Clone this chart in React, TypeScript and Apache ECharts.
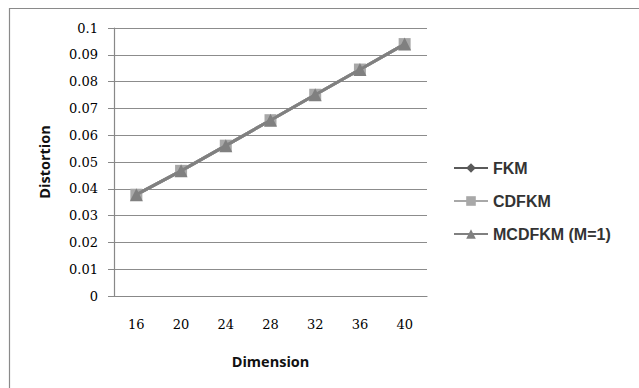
import React, { useEffect, useRef } from "react";
import * as echarts from "echarts";

const dimensions = ["16", "20", "24", "28", "32", "36", "40"];
const fkm = [0.0378, 0.0467, 0.0561, 0.0656, 0.0751, 0.0845, 0.094];
const cdfkm = [0.0378, 0.0467, 0.0561, 0.0656, 0.0751, 0.0845, 0.094];
const mcdfkm = [0.0378, 0.0467, 0.0561, 0.0656, 0.0751, 0.0845, 0.094];

const seriesNames = ["FKM", "CDFKM", "MCDFKM (M=1)"];
const seriesColors = ["#5a5a5a", "#a8a8a8", "#808080"];
const seriesSymbols = ["diamond", "rect", "triangle"];
const seriesSymbolSizes = [9, 12, 13];

export default function App() {
  const ref = useRef<HTMLDivElement>(null);

  useEffect(() => {
    if (!ref.current) return;
    const chart = echarts.init(ref.current, undefined, { renderer: "svg" });
    const values = [fkm, cdfkm, mcdfkm];
    chart.setOption({
      animation: false,
      backgroundColor: "#ffffff",
      graphic: [
        {
          type: "polyline",
          silent: true,
          shape: { points: [[9.5, 400], [9.5, 8.5], [640, 8.5]] },
          style: { stroke: "#8a8a8a", lineWidth: 1.2, fill: null },
        },
      ],
      legend: {
        orient: "vertical",
        left: 448,
        top: 155,
        itemWidth: 34,
        itemHeight: 12,
        itemGap: 17,
        data: seriesNames,
        textStyle: {
          fontFamily: "Liberation Sans",
          fontWeight: "bold",
          fontSize: 16,
          color: "#333333",
        },
      },
      grid: { left: 114, right: 212, top: 28, bottom: 92 },
      xAxis: {
        type: "category",
        data: dimensions,
        boundaryGap: true,
        name: "Dimension",
        nameLocation: "middle",
        nameGap: 58,
        nameTextStyle: {
          fontFamily: "Open Sans",
          fontWeight: "bold",
          fontSize: 14.5,
          color: "#111111",
        },
        axisLine: { lineStyle: { color: "#888888", width: 1.2 } },
        axisTick: { show: false },
        axisLabel: {
          margin: 22,
          fontFamily: "DejaVu Serif",
          fontSize: 13,
          color: "#000000",
        },
      },
      yAxis: {
        type: "value",
        min: 0,
        max: 0.1,
        interval: 0.01,
        name: "Distortion",
        nameLocation: "middle",
        nameGap: 62,
        nameRotate: 90,
        nameTextStyle: {
          fontFamily: "Open Sans",
          fontWeight: "bold",
          fontSize: 14.5,
          color: "#111111",
        },
        axisLine: { show: true, lineStyle: { color: "#888888", width: 1.2 } },
        axisTick: { show: true, length: 6, lineStyle: { color: "#888888" } },
        axisLabel: {
          margin: 16,
          fontFamily: "DejaVu Serif",
          fontSize: 13,
          color: "#000000",
          formatter: (v: number) => String(Math.round(v * 100) / 100),
        },
        splitLine: { lineStyle: { color: "#8c8c8c", width: 1.2 } },
      },
      series: values.map((data, i) => ({
        name: seriesNames[i],
        type: "line",
        data,
        symbol: seriesSymbols[i],
        symbolSize: seriesSymbolSizes[i],
        showSymbol: true,
        color: seriesColors[i],
        lineStyle: { width: 3, color: seriesColors[i] },
        itemStyle: { color: seriesColors[i] },
        z: 2 + i,
      })),
    });
    return () => chart.dispose();
  }, []);

  return (
    <div
      ref={ref}
      style={{ position: "absolute", left: 0, top: 0, width: 639, height: 388 }}
    />
  );
}
